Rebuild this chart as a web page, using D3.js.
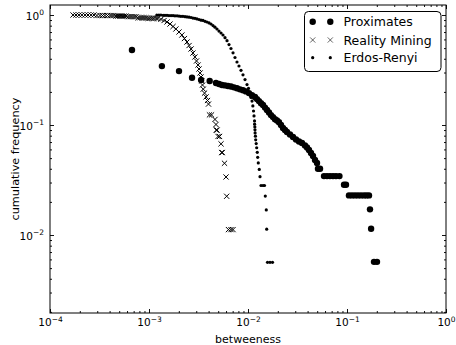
<!DOCTYPE html>
<html>
<head>
<meta charset="utf-8">
<script src="https://cdnjs.cloudflare.com/ajax/libs/d3/7.8.5/d3.min.js"></script>
<style>
	body { margin: 0; background: #fff; }
	svg { display: block; font-family: "DejaVu Sans", sans-serif; }
</style>
</head>
<body>
<div id="chart"></div>
<script>
// values
var proxBetweenness = [0.000673, 0.00135, 0.00201, 0.00272, 0.00336, 0.00410, 0.00475,
	0.00510, 0.00546, 0.00586, 0.00628, 0.00673, 0.00722, 0.00774, 0.00830, 0.00890, 0.00954,
	0.01023, 0.01097, 0.01177, 0.01233, 0.01291, 0.01353, 0.01417, 0.01485, 0.01555, 0.01630,
	0.01707, 0.01789, 0.01874, 0.01963, 0.02056, 0.02154, 0.02257, 0.02364, 0.02477, 0.02655,
	0.02848, 0.03054, 0.03275, 0.03511, 0.03765, 0.03945, 0.04132, 0.04329, 0.04535, 0.04751,
	0.04977, 0.0509, 0.0534, 0.0586, 0.0628, 0.0673, 0.0722, 0.0774, 0.0839, 0.0933, 0.0977,
	0.1047, 0.1123, 0.1204, 0.1291, 0.1385, 0.1485, 0.1574, 0.1668, 0.1707, 0.1752, 0.1874, 0.2009];
var proxCumFreq = [0.480, 0.343, 0.309, 0.269, 0.257, 0.251, 0.241,
	0.236, 0.231, 0.229, 0.226, 0.224, 0.220, 0.216, 0.211, 0.207, 0.202,
	0.195, 0.187, 0.180, 0.172, 0.165, 0.158, 0.152, 0.144, 0.137, 0.130,
	0.123, 0.118, 0.113, 0.110, 0.106, 0.100, 0.0939, 0.0901, 0.0864, 0.0819,
	0.0778, 0.0738, 0.0708, 0.0686, 0.0651, 0.0624, 0.0593, 0.0557, 0.0523, 0.0481,
	0.0451, 0.0400, 0.0400, 0.0343, 0.0343, 0.0343, 0.0343, 0.0343, 0.0343, 0.0286, 0.0286,
	0.0229, 0.0229, 0.0229, 0.0229, 0.0229, 0.0229, 0.0229, 0.0229, 0.0171, 0.0114, 0.0057, 0.0057];

var rmBetweenness = [0.000171, 0.000183, 0.000196, 0.000210, 0.000226, 0.000242, 0.000260, 0.000278,
	0.000298, 0.000320, 0.000339, 0.000359, 0.000381, 0.000404, 0.000423, 0.000443,
	0.000464, 0.000486, 0.000509, 0.000534, 0.000559, 0.000586,
	0.000614, 0.000643, 0.000673, 0.000706, 0.000739,
	0.000774, 0.000811, 0.000850, 0.000890, 0.000933, 0.000977, 0.00102, 0.00107, 0.00112, 0.00118,
	0.00123, 0.00132, 0.00142, 0.00152, 0.00163, 0.00175, 0.00187, 0.00201, 0.00215, 0.00228,
	0.00242, 0.00254, 0.00266, 0.00278, 0.00291, 0.00302, 0.00313, 0.00320, 0.00328, 0.00335,
	0.00341, 0.00347, 0.00353, 0.00364, 0.00377, 0.00390, 0.00399,
	0.00408, 0.00428, 0.00464, 0.00475, 0.00478, 0.00487, 0.00498, 0.00516, 0.00534,
	0.00542, 0.00550, 0.00579, 0.00600, 0.00609, 0.00635, 0.00673, 0.00706];
var rmCumFreq = [1.0, 1.0, 1.0, 1.0, 1.0, 1.0, 1.0, 1.0,
	0.989, 0.989, 0.989, 0.989, 0.989, 0.989, 0.989, 0.989,
	0.978, 0.978, 0.978, 0.978, 0.978, 0.978,
	0.966, 0.966, 0.966, 0.966, 0.966,
	0.944, 0.944, 0.944, 0.944, 0.944, 0.933, 0.933, 0.933, 0.933, 0.933,
	0.933, 0.914, 0.891, 0.864, 0.828, 0.786, 0.746, 0.701, 0.658, 0.611,
	0.568, 0.528, 0.491, 0.451, 0.415, 0.382, 0.351, 0.323, 0.297, 0.273,
	0.251, 0.231, 0.212, 0.195, 0.180, 0.167, 0.155,
	0.1236, 0.1236, 0.1124, 0.1011, 0.0899, 0.0899, 0.0787, 0.0787, 0.0674,
	0.0562, 0.0562, 0.0449, 0.0337, 0.0225, 0.0112, 0.0112, 0.0112];

var erBetweenness = [0.00120, 0.00126, 0.00132, 0.00139, 0.00145, 0.00152, 0.00159, 0.00167, 0.00175,
	0.00183, 0.00192, 0.00201, 0.00210, 0.00220, 0.00231, 0.00242, 0.00254, 0.00266, 0.00278,
	0.00291, 0.00305, 0.00320, 0.00335, 0.00351, 0.00368, 0.00385, 0.00404, 0.00423, 0.00443,
	0.00464, 0.00486, 0.00509, 0.00534, 0.00559, 0.00586, 0.00614, 0.00643, 0.00673, 0.00706,
	0.00739, 0.00774, 0.00811, 0.00850, 0.00890, 0.00933, 0.00977, 0.01012, 0.01047, 0.01072,
	0.01098, 0.01120, 0.01137, 0.01150, 0.01164, 0.01166, 0.01172, 0.01176, 0.01180, 0.01188,
	0.01196, 0.01210, 0.01224, 0.01241, 0.01253, 0.01270, 0.01300, 0.01322,
	0.01353, 0.01417, 0.01468, 0.01495, 0.01530, 0.01545, 0.01574, 0.01668, 0.01768];
var erCumFreq = [1.0, 1.0, 1.0, 0.994, 0.994, 0.994, 0.989, 0.989, 0.989,
	0.983, 0.983, 0.977, 0.972, 0.972, 0.966, 0.960, 0.955, 0.949, 0.938,
	0.932, 0.921, 0.910, 0.898, 0.893, 0.876, 0.864, 0.847, 0.828, 0.802,
	0.775, 0.746, 0.715, 0.686, 0.658, 0.622, 0.584, 0.539, 0.496, 0.453,
	0.411, 0.374, 0.344, 0.314, 0.286, 0.259, 0.233, 0.215, 0.195, 0.178,
	0.165, 0.149, 0.134, 0.121, 0.109, 0.1017, 0.0960, 0.0904, 0.0847, 0.0791,
	0.0734, 0.0678, 0.0621, 0.0565, 0.0508, 0.0452, 0.0395, 0.0339,
	0.0282, 0.0282, 0.0282, 0.0226, 0.0169, 0.0113, 0.00565, 0.00565, 0.00565];

var xMajorTicks = [1e-4, 1e-3, 1e-2, 1e-1, 1];
var xTickExps = ["\u22124", "\u22123", "\u22122", "\u22121", "0"];
var yMajorTicks = [1, 1e-1, 1e-2];
var yTickExps = ["0", "\u22121", "\u22122"];
var legendLabels = ["Proximates", "Reality Mining", "Erdos-Renyi"];

var W = 456, H = 345;
var PLOT = { left: 50, right: 446, top: 5, bottom: 313 };

var svg = d3.select("#chart").append("svg")
	.attr("width", W)
	.attr("height", H);

var x = d3.scaleLog().domain([1e-4, 1]).range([PLOT.left, PLOT.right]);
var y = d3.scaleLog().domain([0.001954, 1.233]).range([PLOT.bottom, PLOT.top]);

var xMinor = x.ticks().filter(d => xMajorTicks.indexOf(d) < 0);
var yMinor = y.ticks().filter(d => yMajorTicks.indexOf(d) < 0);

// ticks on all four sides, pointing in
var gBottom = svg.append("g").attr("transform", `translate(0,${PLOT.bottom})`);
gBottom.append("g").call(d3.axisBottom(x).tickValues(xMinor).tickSize(-2).tickFormat(() => ""));
var bottomMajor = gBottom.append("g").call(d3.axisBottom(x).tickValues(xMajorTicks).tickSize(-4));

var gTop = svg.append("g").attr("transform", `translate(0,${PLOT.top})`);
gTop.append("g").call(d3.axisTop(x).tickValues(xMinor).tickSize(-2).tickFormat(() => ""));
gTop.append("g").call(d3.axisTop(x).tickValues(xMajorTicks).tickSize(-4).tickFormat(() => ""));

var gLeft = svg.append("g").attr("transform", `translate(${PLOT.left},0)`);
gLeft.append("g").call(d3.axisLeft(y).tickValues(yMinor).tickSize(-2).tickFormat(() => ""));
var leftMajor = gLeft.append("g").call(d3.axisLeft(y).tickValues(yMajorTicks).tickSize(-4));

var gRight = svg.append("g").attr("transform", `translate(${PLOT.right},0)`);
gRight.append("g").call(d3.axisRight(y).tickValues(yMinor).tickSize(-2).tickFormat(() => ""));
gRight.append("g").call(d3.axisRight(y).tickValues(yMajorTicks).tickSize(-4).tickFormat(() => ""));

svg.selectAll(".domain").remove();
svg.selectAll(".tick line").attr("stroke", "#111");

// 10^n labels with superscripts
function powerLabel(sel, exps, ticks){
	sel.each(function(d){
		var t = d3.select(this).text(null)
			.attr("font-family", "DejaVu Sans, sans-serif")
			.attr("font-size", 10.5)
			.attr("fill", "#000");
		t.append("tspan").text("10");
		t.append("tspan").attr("dy", -4.5).attr("font-size", 7.5).text(exps[ticks.indexOf(d)]);
	});
}
bottomMajor.selectAll(".tick text")
	.attr("y", 13).attr("dy", null)
	.attr("text-anchor", "middle")
	.call(powerLabel, xTickExps, xMajorTicks);
leftMajor.selectAll(".tick text")
	.attr("x", -6).attr("dy", "0.4em")
	.attr("text-anchor", "end")
	.call(powerLabel, yTickExps, yMajorTicks);

// frame
svg.append("rect")
	.attr("x", PLOT.left).attr("y", PLOT.top)
	.attr("width", PLOT.right - PLOT.left)
	.attr("height", PLOT.bottom - PLOT.top)
	.attr("fill", "none")
	.attr("stroke", "#000")
	.attr("stroke-width", 1);

var plot = svg.append("g");
var crossPath = "M-2.6,-2.6L2.6,2.6M-2.6,2.6L2.6,-2.6";

plot.append("g").selectAll("circle")
	.data(d3.zip(proxBetweenness, proxCumFreq))
	.enter().append("circle")
	.attr("cx", d => x(d[0]))
	.attr("cy", d => y(d[1]))
	.attr("r", 3.2)
	.attr("fill", "#000");

plot.append("g").selectAll("path")
	.data(d3.zip(rmBetweenness, rmCumFreq))
	.enter().append("path")
	.attr("transform", d => `translate(${x(d[0])},${y(d[1])})`)
	.attr("d", crossPath)
	.attr("fill", "none")
	.attr("stroke", "#000")
	.attr("stroke-width", 1);

plot.append("g").selectAll("circle")
	.data(d3.zip(erBetweenness, erCumFreq))
	.enter().append("circle")
	.attr("cx", d => x(d[0]))
	.attr("cy", d => y(d[1]))
	.attr("r", 1.6)
	.attr("fill", "#000");

// axis titles
svg.append("text")
	.attr("x", (PLOT.left + PLOT.right) / 2)
	.attr("y", 343)
	.attr("text-anchor", "middle")
	.attr("font-size", 11)
	.text("betweeness");
svg.append("text")
	.attr("transform", `translate(18.5,${(PLOT.top + PLOT.bottom) / 2}) rotate(-90)`)
	.attr("text-anchor", "middle")
	.attr("font-size", 11.3)
	.text("cumulative frequency");

// legend
var legend = svg.append("g").attr("transform", "translate(304.5,11.5)");
legend.append("rect")
	.attr("width", 136.5).attr("height", 60)
	.attr("rx", 4)
	.attr("fill", "#fff")
	.attr("stroke", "#000")
	.attr("stroke-width", 1);
var rowY = [10.2, 28.5, 46.2];
var rows = legend.selectAll("g.row")
	.data(legendLabels)
	.enter().append("g")
	.attr("class", "row")
	.attr("transform", (d, i) => `translate(0,${rowY[i]})`);
rows.append("text")
	.attr("x", 39)
	.attr("dy", "0.36em")
	.attr("font-size", 12.5)
	.text(d => d);
[8.2, 25.8].forEach(function(mx){
	rows.filter((d, i) => i === 0).append("circle").attr("cx", mx).attr("r", 3.2).attr("fill", "#000");
	rows.filter((d, i) => i === 1).append("path")
		.attr("transform", `translate(${mx},0)`)
		.attr("d", crossPath)
		.attr("stroke", "#000").attr("stroke-width", 0.6);
	rows.filter((d, i) => i === 2).append("circle").attr("cx", mx).attr("r", 1.6).attr("fill", "#000");
});
</script>
</body>
</html>
